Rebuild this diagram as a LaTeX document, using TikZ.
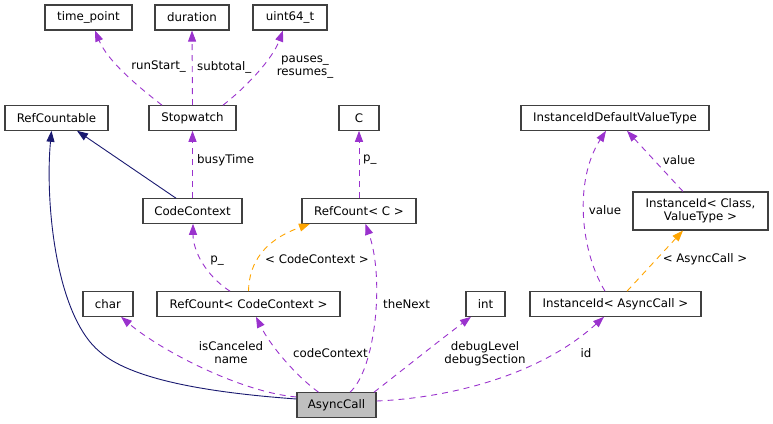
\documentclass[tikz,border=0pt]{standalone}
\usepackage{fontspec}
\setmainfont{DejaVu Sans}
\usetikzlibrary{arrows.meta}
\definecolor{edgep}{HTML}{9A32CD}
\definecolor{edgen}{HTML}{191970}
\definecolor{edgeo}{HTML}{FFA500}
\definecolor{boxc}{HTML}{404040}
\definecolor{boxg}{HTML}{BFBFBF}
\begin{document}
\begin{tikzpicture}[x=1pt,y=-1pt,
  every node/.style={font=\fontsize{11.8}{13}\selectfont},
  box/.style={draw=boxc, line width=1.1pt, fill=white, inner sep=0pt, minimum height=24.5pt},
  lbl/.style={inner sep=0pt, align=center},
  tip/.style={-{Triangle[length=11pt,width=8pt]}},
  pe/.style={tip, color=edgep, line width=0.9pt, dash pattern=on 6pt off 5pt},
  oe/.style={tip, color=edgeo, line width=0.9pt, dash pattern=on 6pt off 5pt},
  ne/.style={tip, color=edgen, line width=0.9pt}]
\useasboundingbox (0,0) rectangle (773,423);
% nodes
\node[box, minimum width=87pt, minimum height=25pt] (tp) at (88.5,17.5) {time\_point};
\node[box, minimum width=74pt, minimum height=25pt] (du) at (192,17.5) {duration};
\node[box, minimum width=74pt, minimum height=25pt] (u64) at (290,17.5) {uint64\_t};
\node[box, minimum width=103pt] (rc) at (56.5,118) {RefCountable};
\node[box, minimum width=87pt] (sw) at (192.5,118) {Stopwatch};
\node[box, minimum width=40pt] (c) at (359,118) {C};
\node[box, minimum width=188pt] (iidvt) at (615,118) {InstanceIdDefaultValueType};
\node[box, minimum width=99pt] (cc) at (192.5,211) {CodeContext};
\node[box, minimum width=114pt] (rcc) at (359,211) {RefCount< C >};
\node[box, minimum width=135pt, minimum height=38pt, align=center] (iicv) at (700.5,211) {InstanceId< Class,\\ ValueType >};
\node[box, minimum width=50pt] (ch) at (108,304) {char};
\node[box, minimum width=183pt] (rccc) at (248.5,304) {RefCount< CodeContext >};
\node[box, minimum width=39pt] (int) at (485.5,304) {int};
\node[box, minimum width=171pt] (iia) at (615.5,304) {InstanceId< AsyncCall >};
\node[box, minimum width=79pt, fill=boxg] (ac) at (336.5,405) {AsyncCall};
% edges
\draw[ne] ([yshift=6pt]ac.west) .. controls (200,392) and (130,378) .. (100,352)
  .. controls (55,315) and (45,200) .. ([xshift=-5pt]rc.south);
\draw[ne] ([xshift=-16.5pt]cc.north) -- ([xshift=20.5pt]rc.south);
\draw[pe] ([xshift=-30.5pt]sw.north) .. controls (140,88) and (108,62) .. ([xshift=6.5pt]tp.south);
\draw[pe] (sw.north) -- (du.south);
\draw[pe] ([xshift=30.5pt]sw.north) .. controls (245,88) and (272,60) .. ([xshift=-7pt]u64.south);
\draw[pe] (cc.north) -- (sw.south);
\draw[pe] (rcc.north) -- (c.south);
\draw[pe] ([xshift=-18.5pt]rccc.north) .. controls (205,275) and (193,250) .. ([xshift=0.5pt]cc.south);
\draw[oe] (rccc.north) .. controls (249,262) and (265,240) .. ([xshift=-49pt]rcc.south);
\draw[pe] ([xshift=13.5pt]ac.north) .. controls (375,370) and (385,280) .. ([xshift=6.5pt]rcc.south);
\draw[pe] ([xshift=-18pt]ac.north) .. controls (295,375) and (270,345) .. ([xshift=7.5pt]rccc.south);
\draw[pe] ([yshift=8pt]ac.west) .. controls (240,392) and (160,350) .. ([xshift=13pt]ch.south);
\draw[pe] ([xshift=37.5pt]ac.north) .. controls (400,372) and (440,340) .. ([xshift=-14.5pt]int.south);
\draw[pe] ([yshift=4pt]ac.east) .. controls (450,398) and (540,375) .. ([xshift=-11.5pt]iia.south);
\draw[pe] ([xshift=-10.5pt]iia.north) .. controls (580,250) and (574,180) .. ([xshift=-9pt]iidvt.south);
\draw[oe] ([xshift=11.5pt]iia.north) -- ([xshift=-17.5pt]iicv.south);
\draw[pe] ([xshift=-17.5pt]iicv.north) -- ([xshift=12pt]iidvt.south);
% labels
\node[lbl, anchor=east] (l1) at (186,67) {runStart\_};
\node[lbl, anchor=west] (l2) at (197,67) {subtotal\_};
\node[lbl] (l3) at (305,67) {pauses\_\\resumes\_};
\node[lbl, anchor=west] (l4) at (197,160) {busyTime};
\node[lbl, anchor=west] (l5) at (363,160) {p\_};
\node[lbl] (l6) at (217,261) {p\_};
\node[lbl] (l7) at (317,259) {< CodeContext >};
\node[lbl, anchor=west] (l8) at (383,304) {theNext};
\node[lbl] (l9) at (330.5,353) {codeContext};
\node[lbl] (l10) at (231,353) {isCanceled\\name};
\node[lbl] (l11) at (485,353.5) {debugLevel\\debugSection};
\node[lbl] (l12) at (586,353) {id};
\node[lbl] (l13) at (605,210) {value};
\node[lbl] (l14) at (705,259) {< AsyncCall >};
\node[lbl] (l15) at (679,160) {value};
\end{tikzpicture}
\end{document}
